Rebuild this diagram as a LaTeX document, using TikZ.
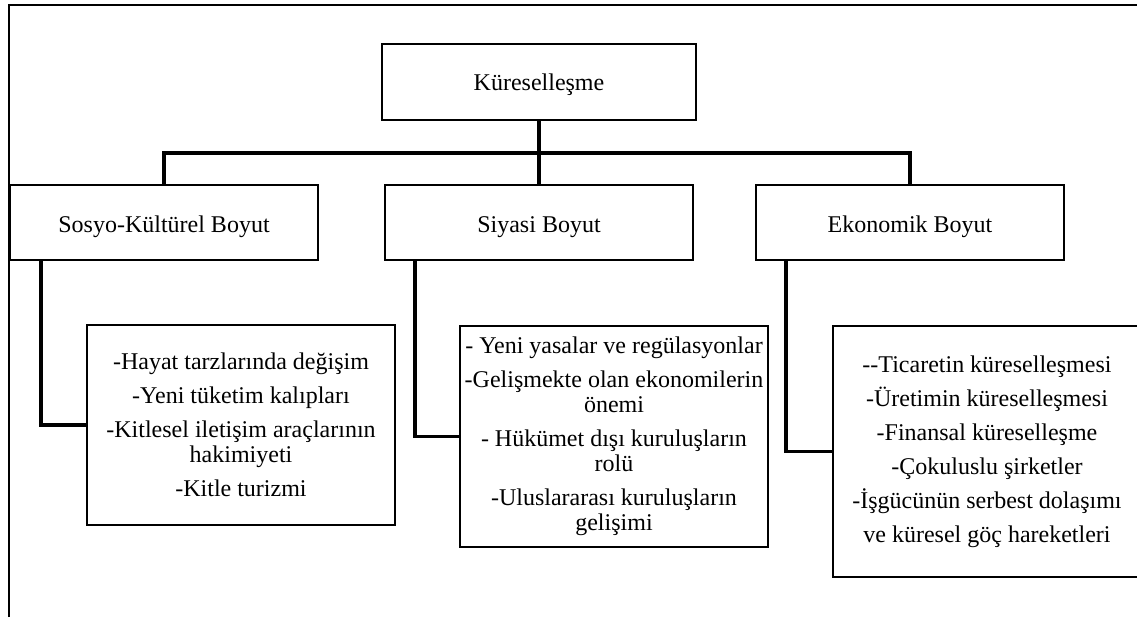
\documentclass[tikz,border=0pt]{standalone}
\usepackage{fontspec}
\setmainfont{Liberation Serif}
\usepackage{xcolor}
\usepackage{tikz}
\usetikzlibrary{positioning}
\definecolor{ink}{HTML}{000000}

\begin{document}
\begin{tikzpicture}[x=0.5pt,y=-0.5pt,
    font=\fontsize{12}{12.5}\selectfont,
    box/.style={draw=ink, line width=1.1pt, fill=white, inner sep=0pt, align=center},
    headbox/.style={box, minimum width=154pt, minimum height=37.5pt,
      text height=11.5pt, text depth=2pt},
    itembox/.style={box, minimum width=154pt},
    conn/.style={draw=ink, line width=1.6pt},
    frame/.style={draw=ink, line width=0.8pt}]
  \clip (0,0) rectangle (1137,617);
  \fill[white] (0,0) rectangle (1137,617);
  % page frame
  \draw[frame] (9,617) -- (9,5) -- (1137,5);

  % top
  \node[headbox, minimum width=157pt, minimum height=38pt,
        text height=10.5pt, text depth=2.5pt] (kur) at (539,82) {Küreselleşme};

  % dimensions
  \node[headbox] (sosyo) at (164,222.5) {Sosyo-Kültürel Boyut};
  \node[headbox] (siyasi) at (539,222.5) {Siyasi Boyut};
  \node[headbox] (ekonomik) at (910,222.5) {Ekonomik Boyut};

  % details
  \node[itembox, minimum height=100pt] (sosyoList) at (241,425) {%
    -Hayat tarzlarında değişim\\[4.5pt]
    -Yeni tüketim kalıpları\\[4.5pt]
    -Kitlesel iletişim araçlarının\\
    hakimiyeti\\[4.5pt]
    -Kitle turizmi};
  \node[itembox, minimum height=110.5pt] (siyasiList) at (614,436.5) {%
    - Yeni yasalar ve regülasyonlar\\[4.5pt]
    -Gelişmekte olan ekonomilerin\\
    önemi\\[4.5pt]
    - Hükümet dışı kuruluşların\\
    rolü\\[4.5pt]
    -Uluslararası kuruluşların\\
    gelişimi};
  \node[itembox, minimum height=125.5pt] (ekonomikList) at (987,451.5) {%
    -{}-Ticaretin küreselleşmesi\\[4.5pt]
    -Üretimin küreselleşmesi\\[4.5pt]
    -Finansal küreselleşme\\[4.5pt]
    -Çokuluslu şirketler\\[4.5pt]
    -İşgücünün serbest dolaşımı\\[4.5pt]
    ve küresel göç hareketleri};

  % connectors
  \coordinate (bar) at (0,153);
  \draw[conn] (sosyo.north) |- (bar -| ekonomik.north) -- (ekonomik.north);
  \draw[conn] (kur.south) -- (siyasi.north);
  \draw[conn] (sosyo.south west) ++(16pt,0) |- (sosyoList.west);
  \draw[conn] (siyasi.south west) ++(15.5pt,0) |- (siyasiList.west);
  \draw[conn] (ekonomik.south west) ++(15.5pt,0) |- (ekonomikList.west);
\end{tikzpicture}
\end{document}
